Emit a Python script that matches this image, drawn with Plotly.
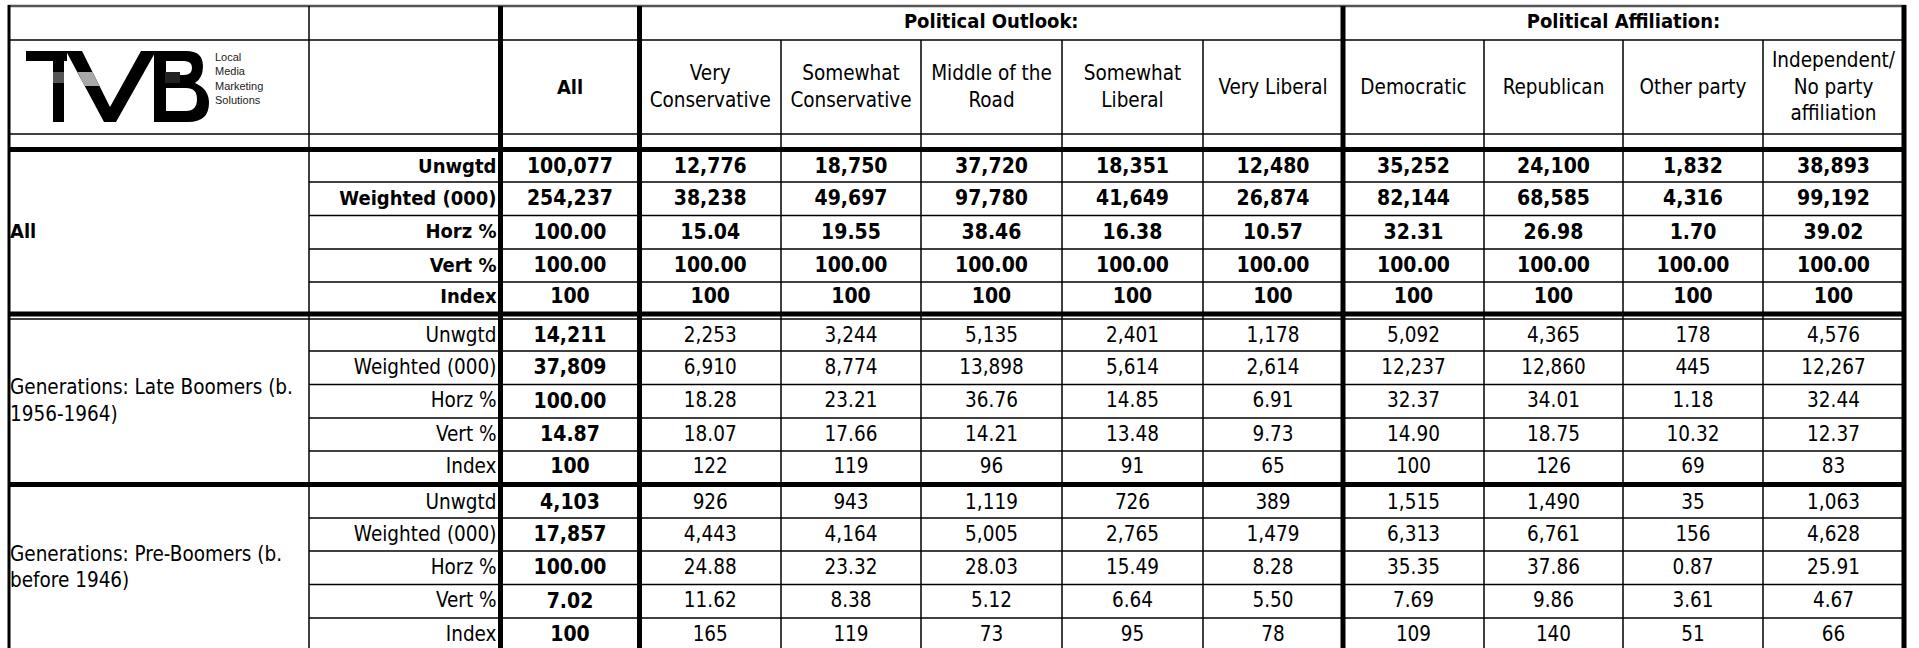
import plotly.graph_objects as go

# ---------------- data ----------------
outlook_cols = ["Very<br>Conservative", "Somewhat<br>Conservative", "Middle of the<br>Road",
                "Somewhat<br>Liberal", "Very Liberal"]
affil_cols = ["Democratic", "Republican", "Other party", "Independent/<br>No party<br>affiliation"]
group_titles = ["Political Outlook:", "Political Affiliation:"]
row_labels = ["Unwgtd", "Weighted (000)", "Horz %", "Vert %", "Index"]
row_groups = ["All", "Generations: Late Boomers (b.<br>1956-1964)",
              "Generations: Pre-Boomers (b.<br>before 1946)"]
logo_words = ["Local", "Media", "Marketing", "Solutions"]

all_unwgtd = [100077, 12776, 18750, 37720, 18351, 12480, 35252, 24100, 1832, 38893]
all_weighted = [254237, 38238, 49697, 97780, 41649, 26874, 82144, 68585, 4316, 99192]
all_horz = [100.00, 15.04, 19.55, 38.46, 16.38, 10.57, 32.31, 26.98, 1.70, 39.02]
all_vert = [100.00, 100.00, 100.00, 100.00, 100.00, 100.00, 100.00, 100.00, 100.00, 100.00]
all_index = [100, 100, 100, 100, 100, 100, 100, 100, 100, 100]

late_unwgtd = [14211, 2253, 3244, 5135, 2401, 1178, 5092, 4365, 178, 4576]
late_weighted = [37809, 6910, 8774, 13898, 5614, 2614, 12237, 12860, 445, 12267]
late_horz = [100.00, 18.28, 23.21, 36.76, 14.85, 6.91, 32.37, 34.01, 1.18, 32.44]
late_vert = [14.87, 18.07, 17.66, 14.21, 13.48, 9.73, 14.90, 18.75, 10.32, 12.37]
late_index = [100, 122, 119, 96, 91, 65, 100, 126, 69, 83]

pre_unwgtd = [4103, 926, 943, 1119, 726, 389, 1515, 1490, 35, 1063]
pre_weighted = [17857, 4443, 4164, 5005, 2765, 1479, 6313, 6761, 156, 4628]
pre_horz = [100.00, 24.88, 23.32, 28.03, 15.49, 8.28, 35.35, 37.86, 0.87, 25.91]
pre_vert = [7.02, 11.62, 8.38, 5.12, 6.64, 5.50, 7.69, 9.86, 3.61, 4.67]
pre_index = [100, 165, 119, 73, 95, 78, 109, 140, 51, 66]

blocks = [
    [all_unwgtd, all_weighted, all_horz, all_vert, all_index],
    [late_unwgtd, late_weighted, late_horz, late_vert, late_index],
    [pre_unwgtd, pre_weighted, pre_horz, pre_vert, pre_index],
]
row_formats = ["{:,.0f}", "{:,.0f}", "{:.2f}", "{:.2f}", "{:.0f}"]

# ---------------- layout geometry (pixels) ----------------
W, H = 1919, 648
FONT = "Tahoma, 'DejaVu Sans Condensed', 'DejaVu Sans', sans-serif"
FS = 20.5        # regular text
FS_NUM_B = 21    # bold numbers
FS_LAB_B = 20    # bold row labels / headers
LEFT, COL1, THICK1, THICK2, THICK3, RIGHT = 9, 309, 500.5, 639.5, 1343, 1904
outlook_edges = [THICK2, 781, 921, 1062, 1203, THICK3]
affil_edges = [THICK3, 1484, 1623, 1763, RIGHT]
value_edges = [THICK1] + outlook_edges + affil_edges[1:]
col_centers = [(value_edges[i] + value_edges[i + 1]) / 2 for i in range(len(value_edges) - 1)]
TOP, HDR1, HDR2, HDR3 = 6, 40, 134, 149.5
block_bounds = [
    [152, 182, 215.5, 249, 282, 312],
    [320, 351, 384.5, 418, 451, 482],
    [487, 518, 551, 584.5, 618, 651],
]

fig = go.Figure()

# ---------------- text cells ----------------
def add_text(xs, ys, texts, bold=False, pos="middle center", size=FS, color="black"):
    fig.add_trace(go.Scatter(
        x=xs, y=ys, text=texts, mode="text", textposition=pos,
        textfont=dict(family=FONT, size=size, color=color, weight="bold" if bold else "normal"),
        hoverinfo="skip", showlegend=False, cliponaxis=False))

# header row 1
add_text([(THICK2 + THICK3) / 2, (THICK3 + RIGHT) / 2], [(TOP + HDR1) / 2] * 2, group_titles,
         bold=True, size=FS_LAB_B)
# header row 2
hy = (HDR1 + HDR2) / 2 + 1.5
add_text([col_centers[0]], [hy], ["All"], bold=True, size=FS_LAB_B)
add_text(col_centers[1:], [hy] * (len(col_centers) - 1), outlook_cols + affil_cols)

for b, (bounds, values) in enumerate(zip(block_bounds, blocks)):
    centers = [(bounds[i] + bounds[i + 1]) / 2 + 1 for i in range(5)]
    bold_block = (b == 0)
    # group label (centred on the third row)
    add_text([LEFT + 1], [centers[2]], [row_groups[b]], bold=bold_block, pos="middle right",
             size=FS_LAB_B if bold_block else FS)
    # row labels
    add_text([THICK1 - 4] * 5, centers, row_labels, bold=bold_block, pos="middle left",
             size=FS_LAB_B if bold_block else FS)
    # "All" column (always bold)
    add_text([col_centers[0]] * 5, centers,
             [row_formats[r].format(values[r][0]) for r in range(5)], bold=True, size=FS_NUM_B)
    # other columns
    xs, ys, ts = [], [], []
    for r in range(5):
        for c in range(1, len(col_centers)):
            xs.append(col_centers[c])
            ys.append(centers[r])
            ts.append(row_formats[r].format(values[r][c]))
    add_text(xs, ys, ts, bold=bold_block, size=FS_NUM_B if bold_block else FS)

# ---------------- grid lines ----------------
shapes = []
def hline(y, x0, x1, w=1.5, color="black"):
    shapes.append(dict(type="line", x0=x0, x1=x1, y0=y, y1=y, xref="x", yref="y",
                       line=dict(color=color, width=w), layer="above"))
def vline(x, y0, y1, w=1.5, color="black"):
    shapes.append(dict(type="line", x0=x, x1=x, y0=y0, y1=y1, xref="x", yref="y",
                       line=dict(color=color, width=w), layer="above"))

hline(TOP, LEFT - 1, RIGHT + 2, w=2.5, color="#555555")
hline(HDR1, LEFT, RIGHT)
hline(HDR2, LEFT, RIGHT)
hline(HDR3, LEFT, RIGHT + 2, w=5)
for bounds in block_bounds:
    for y in bounds[1:5]:
        hline(y, COL1, RIGHT)
hline(314, LEFT, RIGHT + 2, w=5)
hline(319, LEFT, RIGHT)
hline(484.5, LEFT, RIGHT + 2, w=5)

vline(LEFT, TOP - 1, H + 5, w=3)
vline(COL1, TOP, H + 5)
vline(THICK1, TOP, H + 5, w=5)
vline(THICK2, TOP, H + 5, w=5)
vline(THICK3, TOP, H + 5, w=5)
vline(RIGHT, TOP - 1, H + 5, w=5)
for x in outlook_edges[1:-1] + affil_edges[1:-1]:
    vline(x, HDR1, H + 5)

# ---------------- logo ----------------
def rect(x0, y0, x1, y1, fill):
    shapes.append(dict(type="rect", x0=x0, x1=x1, y0=y0, y1=y1, xref="x", yref="y",
                       fillcolor=fill, line=dict(width=0), layer="above"))
def path(p, fill):
    shapes.append(dict(type="path", path=p, xref="x", yref="y",
                       fillcolor=fill, line=dict(width=0), layer="above"))

rect(26, 51, 67, 61, "black")
rect(53, 61, 64, 122, "black")
rect(53, 72, 64, 83, "#555555")
path("M 66 51 L 82 51 L 110 107 L 141 51 L 156 51 L 116 122 L 104 122 Z", "black")
path("M 77.5 72 L 92.5 72 L 99.5 86 L 84.5 86 Z", "#a8a8a8")
path("M 154 51 L 186 51 Q 203 51 203 66 Q 203 78 195 83 Q 209 89 209 103 "
     "Q 209 122 188 122 L 154 122 Z", "black")
path("M 166 61 L 184 61 Q 192 61 192 68 Q 192 75 184 75 L 166 75 Z", "white")
path("M 166 88 L 186 88 Q 197 88 197 99 Q 197 111 186 111 L 166 111 Z", "white")
rect(165, 72, 180, 83, "#222222")

annotations = [dict(x=213, y=78, xref="x", yref="y", text="<br>".join(logo_words),
                    showarrow=False, xanchor="left", yanchor="middle", align="left",
                    font=dict(family="Liberation Sans, Arial", size=11, color="#222222"))]

fig.update_layout(
    width=W, height=H, margin=dict(l=0, r=0, t=0, b=0),
    paper_bgcolor="white", plot_bgcolor="white",
    xaxis=dict(range=[0, W], visible=False, fixedrange=True),
    yaxis=dict(range=[H, 0], visible=False, fixedrange=True),
    shapes=shapes, annotations=annotations, showlegend=False,
)

fig.write_html("out.html", config={"displayModeBar": False},
               post_script="document.body.style.margin='0';document.body.style.overflow='hidden';")
